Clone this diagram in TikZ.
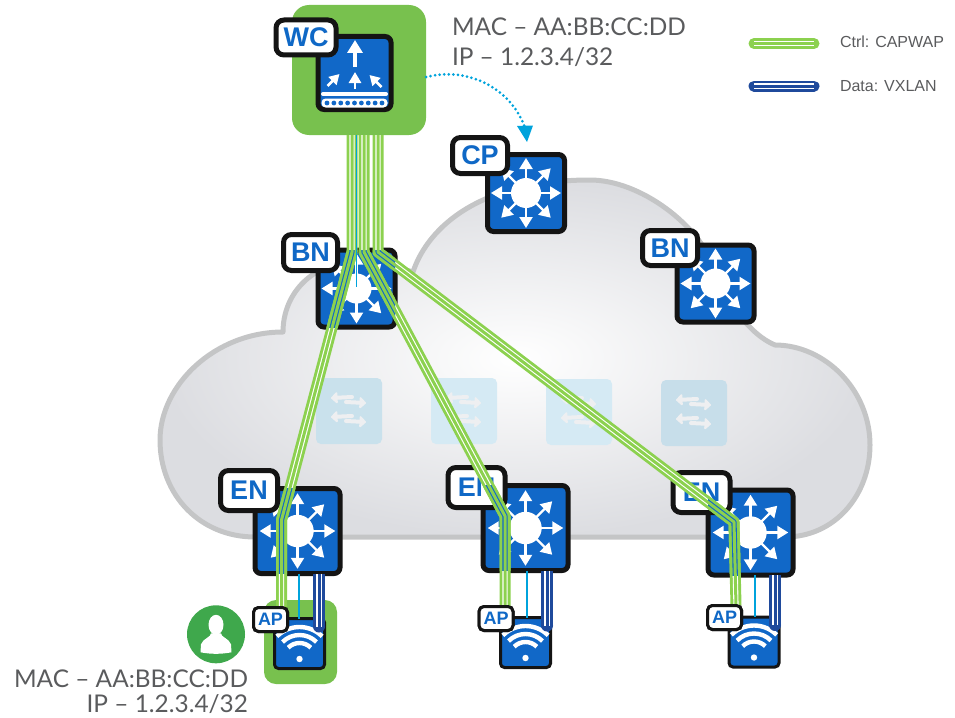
\documentclass[tikz,border=0pt]{standalone}
\usepackage{fontspec}
\setmainfont{Lato}
\newfontfamily\labfont{Liberation Sans}
\usetikzlibrary{arrows.meta,calc}
\definecolor{devblue}{HTML}{1168C8}
\definecolor{labblue}{HTML}{0F68C6}
\definecolor{devblack}{HTML}{141414}
\definecolor{wcgreen}{HTML}{78C14E}
\definecolor{tubegreen}{HTML}{8CD14F}
\definecolor{tubeblue}{HTML}{1F4A9C}
\definecolor{cyanline}{HTML}{00A3DC}
\definecolor{txtgray}{HTML}{5A5B5D}
\definecolor{cloudline}{HTML}{C4C5C6}
\definecolor{cloudedge}{HTML}{DCDDE1}
\definecolor{personcol}{HTML}{3FA84C}
\definecolor{fadeA}{HTML}{C9E1EC}
\definecolor{fadeB}{HTML}{D5EAF4}
\definecolor{fadeC}{HTML}{C7DEEA}
\definecolor{fadearr}{HTML}{EEEFF1}
\tikzset{
  devbox/.style={draw=devblack,fill=devblue,line width=5pt,rounded corners=6pt,minimum size=#1,inner sep=0pt,outer sep=0pt},
  apbox/.style={draw=devblack,fill=devblue,line width=3pt,rounded corners=4pt,minimum size=50pt,inner sep=0pt,outer sep=0pt},
  biglab/.style={draw=devblack,fill=white,line width=5pt,rounded corners=8pt,text=labblue,font=\labfont\bfseries\fontsize{27}{27}\selectfont,inner sep=0pt,outer sep=0pt},
  aplab/.style={draw=devblack,fill=white,line width=3pt,rounded corners=5pt,text=labblue,font=\labfont\bfseries\fontsize{18}{18}\selectfont,minimum width=34pt,minimum height=24pt,inner sep=0pt,outer sep=0pt},
  greenbg/.style={fill=wcgreen,rounded corners=#1,inner sep=0pt,outer sep=0pt},
  tube/.style={draw=tubegreen,line width=11pt,line join=round,postaction={draw=#1,line width=5.2pt},postaction={draw=tubegreen,line width=3pt}},
  datatube/.style={draw=tubeblue,line width=12pt,postaction={draw=white,line width=6pt},postaction={draw=tubeblue,line width=3pt}},
  cyanwire/.style={draw=cyanline,line width=2.6pt},
  info/.style={text=txtgray,font=\fontsize{24.4}{24.4}\selectfont,inner sep=0pt,outer sep=0pt},
  legendtxt/.style={text=txtgray,font=\labfont\fontsize{16}{16}\selectfont,inner sep=0pt,outer sep=0pt},
  fadebox/.style={rounded corners=5pt,minimum size=66pt,inner sep=0pt,outer sep=0pt},
  fadearrow/.style={draw=fadearr,line width=4pt,line cap=round,-{Triangle[length=7pt,width=13pt,round]}},
}
\newcommand{\routerglyph}[2]{%
  \begin{scope}[shift={(#1.center)},scale=#2]
    \fill[white] (0,0) circle (15);
    \foreach \a in {0,90,180,270}
      \draw[white,line width=2.2pt,-{Triangle[length=11pt,width=13pt]}] (\a:12) -- (\a:35);
    \foreach \a in {45,135,225,315}
      \draw[white,line width=2.2pt,-{Triangle[length=11pt,width=13pt]}] (\a:12) -- (\a:35);
  \end{scope}}
\newcommand{\wifiglyph}[1]{%
  \begin{scope}[shift={(#1.center)},shift={(0,15.5)}]
    \fill[white] (0,0) circle (3.2);
    \foreach \r in {16,24,32}
      \draw[white,line width=4.4pt] (225:\r) arc[start angle=225,end angle=315,radius=\r];
  \end{scope}}
\newcommand{\fadeglyph}[1]{%
  \begin{scope}[shift={(#1.center)}]
    \foreach \y in {0,19}{
      \draw[fadearrow] (3,-14+\y) -- (-18,-13+\y);
      \draw[fadearrow] (-3,-9+\y) -- (17,-8+\y);
    }
  \end{scope}}
\begin{document}
\begin{tikzpicture}[x=1pt,y=-1pt]
\useasboundingbox (0,0) rectangle (955,717);
% cloud
\path[draw=cloudline,line width=5pt,inner color=white,outer color=cloudedge,line join=round]
  (255,537) .. controls (200,537) and (160,495) .. (160,440)
  .. controls (160,385) and (215,332) .. (283,332)
  .. controls (283,295) and (310,265) .. (350,262)
  .. controls (375,262) and (400,268) .. (413,272)
  .. controls (425,235) and (470,180) .. (590,180)
  .. controls (640,180) and (700,225) .. (715,270)
  .. controls (725,300) and (750,335) .. (775,345)
  .. controls (825,345) and (870,390) .. (870,445)
  .. controls (870,495) and (835,537) .. (785,537) -- cycle;
% faded switches
\node[fadebox,fill=fadeA] (f1) at (349,411) {};
\node[fadebox,fill=fadeB] (f2) at (464,411) {};
\node[fadebox,fill=fadeB] (f3) at (579,412) {};
\node[fadebox,fill=fadeC] (f4) at (694,413) {};
\fadeglyph{f1}
\fadeglyph{f2}
\fadeglyph{f3}
\fadeglyph{f4}
% green backgrounds
\node[greenbg=17pt,minimum width=134pt,minimum height=130pt] (wcg) at (359,70) {};
\node[greenbg=12pt,minimum width=73pt,minimum height=84pt] (apg) at (300.5,642) {};
% devices
\node[devbox=73pt] (wc) at (354.5,73) {};
\node[devbox=77pt] (cp) at (526,193) {};
\node[devbox=77pt] (bn1) at (356.5,288.5) {};
\node[devbox=77pt] (bn2) at (715.5,283.5) {};
\node[devbox=85pt] (en1) at (297.5,531) {};
\node[devbox=85pt] (en2) at (525.5,528) {};
\node[devbox=85pt] (en3) at (750.5,532.5) {};
\node[apbox] (ap1) at (299.5,643.5) {};
\node[apbox] (ap2) at (525.5,642.5) {};
\node[apbox] (ap3) at (754,642) {};
% WC glyph
\begin{scope}[shift={(wc.center)}]
  \draw[white,line width=4pt,-{Triangle[length=13pt,width=15pt]}] (0.5,-6) -- (0.5,-33);
  \draw[white,line width=2.8pt,-{Triangle[length=11pt,width=12pt]}] (0.5,16) -- (0.5,-1);
  \draw[white,line width=2.8pt,-{Triangle[length=10pt,width=11pt]}] (-27,13) -- (-15,1);
  \draw[white,line width=2.8pt,-{Triangle[length=10pt,width=11pt]}] (27,14) -- (15,2);
  \draw[white,line width=4pt,line cap=round] (-31.5,21) -- (31.5,21);
  \fill[white,rounded corners=4pt] (-33,25.5) rectangle (33,34.5);
  \foreach \i in {-4,...,4} \fill[devblue] (\i*6.87,30) circle (2.4);
\end{scope}
\routerglyph{cp}{1}
\routerglyph{bn1}{1}
\routerglyph{bn2}{1}
\routerglyph{en1}{1.08}
\routerglyph{en2}{1.08}
\routerglyph{en3}{1.08}
\wifiglyph{ap1}
\wifiglyph{ap2}
\wifiglyph{ap3}
% big labels
\node[biglab,minimum width=60pt,minimum height=35pt] (wcl) at (306,37.5) {WC};
\node[biglab,minimum width=55pt,minimum height=36pt] (cpl) at (480,155.5) {CP};
\node[biglab,minimum width=54pt,minimum height=36pt] (bnl1) at (310.5,252.5) {BN};
\node[biglab,minimum width=55pt,minimum height=35pt] (bnl2) at (670,248) {BN};
\node[biglab,minimum width=57pt,minimum height=40pt] (enl1) at (249,490.5) {EN};
\node[biglab,minimum width=57pt,minimum height=40pt] (enl2) at (476.5,487.5) {EN};
\node[biglab,minimum width=57pt,minimum height=40pt] (enl3) at (701.5,492.5) {EN};
% wires below EN
\draw[cyanwire] ([xshift=1.5pt]en1.south) -- ([xshift=-0.5pt]ap1.north);
\draw[cyanwire] ([xshift=1.5pt]en2.south) -- ([xshift=1.5pt]ap2.north);
\draw[cyanwire] ([xshift=4.5pt]en3.south) -- ([xshift=1pt]ap3.north);
\fill[tubeblue] ([xshift=19.5pt,yshift=-8pt]ap1.north) circle (6);
\fill[tubeblue] ([xshift=21.5pt,yshift=-8pt]ap2.north) circle (6);
\fill[tubeblue] ([xshift=21pt,yshift=-8pt]ap3.north) circle (6);
\draw[datatube] ([xshift=21.5pt]en1.south) -- ([xshift=19.5pt,yshift=-8pt]ap1.north);
\draw[datatube] ([xshift=21.5pt]en2.south) -- ([xshift=21.5pt,yshift=-8pt]ap2.north);
\draw[datatube] ([xshift=24.5pt]en3.south) -- ([xshift=21pt,yshift=-8pt]ap3.north);
% AP labels
\node[aplab] (apl1) at (270.5,619.5) {AP};
\node[aplab] (apl2) at (496,618.5) {AP};
\node[aplab] (apl3) at (724.5,617.5) {AP};
% control tubes
\coordinate (a1) at (352,252);
\coordinate (a2) at (281.5,520);
\coordinate (b1) at (364,252);
\coordinate (b2) at (505,516);
\coordinate (c1) at (378,252);
\coordinate (c2) at (734,522);
\def\tubeA{([xshift=-7pt]wcg.south) -- (a1) -- (a2) -- ([xshift=11pt]apl1.north)}
\def\tubeB{([xshift=5pt]wcg.south) -- (b1) -- (b2) -- ([xshift=9pt]apl2.north)}
\def\tubeC{([xshift=19pt]wcg.south) -- (c1) -- (c2) -- ([xshift=11.5pt]apl3.north)}
\draw[tube=white] \tubeA;
\draw[tube=white] \tubeB;
\draw[tube=white] \tubeC;
\foreach \d in {bn1,en1,en2,en3}{
  \begin{scope}
    \clip (\d.south west) rectangle (\d.north east);
    \draw[tube=devblue] \tubeA;
    \draw[tube=devblue] \tubeB;
    \draw[tube=devblue] \tubeC;
  \end{scope}}
\draw[draw=cyanline,line width=1pt] ([xshift=-2.3pt]wcg.south) -- ([xshift=0.2pt,yshift=-36.5pt]bn1.north);
% AP labels on top again
\node[aplab] at (apl1) {AP};
\node[aplab] at (apl2) {AP};
\node[aplab] at (apl3) {AP};
% dotted arrow
\coordinate (dotend) at (527,142);
\draw[cyanline,line width=3pt,dash pattern=on 0pt off 4.6pt,line cap=round]
  ([yshift=-7pt]wcg.east) .. controls (470,66) and (512,90) .. (525,128);
\fill[cyanline] (dotend) -- (517,126) -- (533,125.5) -- cycle;
% person
\node[circle,fill=personcol,minimum size=58pt,inner sep=0pt] (person) at (216,634.3) {};
\begin{scope}[shift={(person.center)}]
  \fill[white] (0,-9.5) ellipse (7.5 and 10);
  \fill[white] (-5,-1) .. controls (-5,3) and (-13,4) .. (-15,10) -- (-15.5,18)
    .. controls (-5,20) and (5,20) .. (15.5,18) -- (15,10) .. controls (13,4) and (5,3) .. (5,-1) -- cycle;
\end{scope}
% texts
\node[info,anchor=base west] (t1) at (452,36) {MAC – AA:BB:CC:DD};
\node[info,anchor=base west] (t2) at (452,65.5) {IP – 1.2.3.4/32};
\node[info,anchor=base east] (t3) at (248,687) {MAC – AA:BB:CC:DD};
\node[info,anchor=base east] (t4) at (248,712) {IP – 1.2.3.4/32};
% legend
\coordinate (lg1) at (754,43.5);
\coordinate (lg2) at (814,43.5);
\coordinate (lb1) at (754,86);
\coordinate (lb2) at (814,86);
\draw[draw=tubegreen,line width=11pt,line cap=round] (lg1) -- (lg2);
\draw[draw=white,line width=5.2pt] (lg1) -- (lg2);
\draw[draw=tubegreen,line width=3pt] (lg1) -- (lg2);
\draw[draw=tubeblue,line width=11pt,line cap=round] (lb1) -- (lb2);
\draw[draw=white,line width=5.2pt] (lb1) -- (lb2);
\draw[draw=tubeblue,line width=3pt] (lb1) -- (lb2);
\node[legendtxt,anchor=base west] (lt1) at (840,48) {Ctrl: CAPWAP};
\node[legendtxt,anchor=base west] (lt2) at (840,91) {Data: VXLAN};
\end{tikzpicture}
\end{document}
